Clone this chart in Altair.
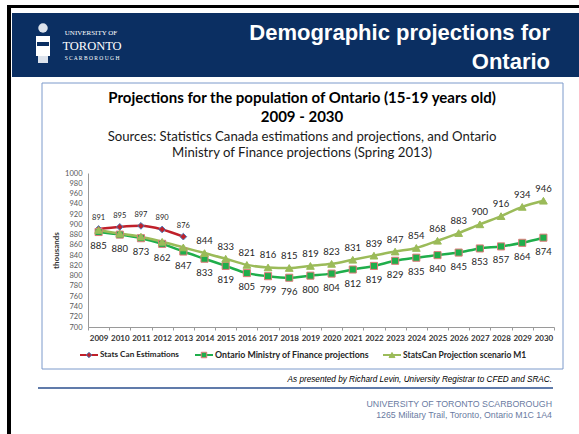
import altair as alt
import pandas as pd

# ---------------- data ----------------
years = ["2009", "2010", "2011", "2012", "2013", "2014", "2015", "2016", "2017", "2018", "2019",
         "2020", "2021", "2022", "2023", "2024", "2025", "2026", "2027", "2028", "2029", "2030"]
est_years = ["2009", "2010", "2011", "2012", "2013"]
stats_can_est = [891, 895, 897, 890, 876]
ontario_mof = [885, 880, 873, 862, 847, 833, 819, 805, 799, 796, 800, 804, 812, 819, 829, 835,
               840, 845, 853, 857, 864, 874]
statscan_m1 = [889, 882, 876, 866, 855, 844, 833, 821, 816, 815, 819, 823, 831, 839, 847, 854,
               868, 883, 900, 916, 934, 946]
m1_label_shown = [False, False, False, False, False, True, True, True, True, True, True,
                  True, True, True, True, True, True, True, True, True, True, True]
series_names = ["Stats Can Estimations", "Ontario Ministry of Finance projections",
                "StatsCan Projection scenario M1"]
y_ticks = [700, 720, 740, 760, 780, 800, 820, 840, 860, 880, 900, 920, 940, 960, 980, 1000]

title_lines = ["Projections for the population of Ontario (15-19 years old)", "2009 - 2030"]
subtitle_lines = ["Sources: Statistics Canada estimations and projections, and Ontario",
                  "Ministry of Finance projections (Spring 2013)"]
header_lines = ["Demographic projections for", "Ontario"]
credit = "As presented by Richard Levin, University Registrar to CFED and SRAC."
footer_lines = ["UNIVERSITY OF TORONTO SCARBOROUGH", "1265 Military Trail, Toronto, Ontario  M1C 1A4"]

# ---------------- tables ----------------
df_est = pd.DataFrame({"year": est_years, "value": stats_can_est, "series": series_names[0]})
df_mof = pd.DataFrame({"year": years, "value": ontario_mof, "series": series_names[1]})
df_m1 = pd.DataFrame({"year": years, "value": statscan_m1, "series": series_names[2],
                      "show": m1_label_shown})
dummy = pd.DataFrame({"k": [0]})

# ---------------- style ----------------
RED = "#C0202A"
GREEN = "#1FAE4B"
LGREEN = "#9BBB59"
NAVY = "#0B2F62"
FONT = "Lato"
W, H = 466, 154
OX, OY = 88, 173  # plot origin in page pixels


def px(X):
    return X - OX


def py(Y):
    return Y - OY


xscale = alt.Scale(type="band", domain=years, paddingInner=0, paddingOuter=0)
yscale = alt.Scale(domain=[700, 1000], nice=False, zero=False)

X_axis = alt.X("year:O", scale=xscale, bandPosition=0.5, title=None,
               axis=alt.Axis(labelAngle=0, labelFont=FONT, labelFontSize=8, labelFontWeight="bold",
                             labelColor="#333333", domainColor="#9A9A9A", tickColor="#9A9A9A",
                             tickSize=3, tickBand="extent", labelPadding=4, grid=False))
Y_axis = alt.Y("value:Q", scale=yscale, title="thousands",
               axis=alt.Axis(values=y_ticks, format="d", labelFont=FONT, labelFontSize=7.5,
                             labelColor="#595959", domainColor="#9A9A9A", ticks=False, grid=False,
                             labelPadding=6, titleFont=FONT, titleFontSize=8,
                             titleFontWeight="bold", titleColor="#333333", titlePadding=4))


def line(df, color):
    return alt.Chart(df).mark_line(color=color, strokeWidth=2.5, interpolate="monotone").encode(
        x=X_axis, y=Y_axis)


def pts(df, shape, fill, stroke, size):
    return alt.Chart(df).mark_point(shape=shape, filled=True, fill=fill, stroke=stroke,
                                    strokeWidth=1, size=size, opacity=1).encode(x=X_axis, y=Y_axis)


def labels(df, dy, size):
    return alt.Chart(df).mark_text(dy=dy, font=FONT, fontSize=size, color="#262626").encode(
        x=X_axis, y=Y_axis, text="value:Q")


def rect(x1, y1, x2, y2, fill=None, stroke=None, sw=1):
    kw = {}
    if fill is not None:
        kw["fill"] = fill
    else:
        kw["fillOpacity"] = 0
    if stroke is not None:
        kw["stroke"] = stroke
        kw["strokeWidth"] = sw
    return alt.Chart(dummy).mark_rect(**kw).encode(
        x=alt.value(px(x1)), x2=alt.value(px(x2)), y=alt.value(py(y1)), y2=alt.value(py(y2)))


def text(t, X, Y, size, color="#000000", weight="normal", align="center", font=FONT, style="normal"):
    return alt.Chart(dummy).mark_text(text=t, fontSize=size, color=color, fontWeight=weight,
                                      align=align, baseline="middle", font=font, fontStyle=style).encode(
        x=alt.value(px(X)), y=alt.value(py(Y)))


def hrule(x1, x2, Y, color, sw):
    return alt.Chart(dummy).mark_rule(color=color, strokeWidth=sw).encode(
        x=alt.value(px(x1)), x2=alt.value(px(x2)), y=alt.value(py(Y)))


def legend_item(x0, Y, color, shape, fill, stroke, size, label, fsize=8.5):
    return [
        hrule(x0, x0 + 18, Y, color, 2),
        alt.Chart(dummy).mark_point(shape=shape, filled=True, fill=fill, stroke=stroke, strokeWidth=1,
                                    size=size, opacity=1).encode(
            x=alt.value(px(x0 + 9)), y=alt.value(py(Y))),
        text(label, x0 + 20, Y, fsize, color="#262626", weight="bold", align="left"),
    ]


# ---------------- slide decoration ----------------
deco = [
    rect(7, 5, 579, 8, fill="#000000"),
    rect(7, 5, 11, 434, fill="#000000"),
    rect(12, 13, 579, 77, fill=NAVY),
    # crest (simplified)
    alt.Chart(dummy).mark_point(shape="circle", filled=True, fill="#DDE3EC", size=90, opacity=1).encode(
        x=alt.value(px(43)), y=alt.value(py(28))),
    rect(36, 36, 50, 56, fill="#FFFFFF"),
    rect(37, 42, 49, 46, fill=NAVY),
    rect(38, 56, 48, 63, fill="#DDE3EC"),
    text("UNIVERSITY OF", 91, 33, 7, color="#FFFFFF", font="Liberation Serif"),
    text("TORONTO", 92, 46, 12.5, color="#FFFFFF", font="Liberation Serif"),
    text("S C A R B O R O U G H", 92, 58, 5.5, color="#FFFFFF", font="Liberation Serif"),
    text(header_lines[0], 550, 33, 22, color="#FFFFFF", weight="bold", align="right",
         font="Liberation Sans"),
    text(header_lines[1], 550, 62, 22, color="#FFFFFF", weight="bold", align="right",
         font="Liberation Sans"),
    rect(42, 83, 563, 369, stroke="#7C9ACB", sw=1),
    text(title_lines[0], 302, 98, 15, color="#000000", weight="bold"),
    text(title_lines[1], 302, 117, 15, color="#000000", weight="bold"),
    text(subtitle_lines[0], 302, 137, 13.2, color="#1A1A1A"),
    text(subtitle_lines[1], 302, 153, 13.2, color="#1A1A1A"),
    hrule(38, 553, 388, "#2B4F8E", 1.5),
    text(credit, 552, 380, 8.2, color="#000000", align="right", font="Liberation Sans", style="italic"),
    text(footer_lines[0], 552, 404, 8.8, color="#6A7BA2", align="right", font="Liberation Sans"),
    text(footer_lines[1], 552, 415, 8.8, color="#6A7BA2", align="right", font="Liberation Sans"),
]

legend = (legend_item(80, 355, RED, "diamond", RED, "#4A7EBB", 30, series_names[0], 8.2)
          + legend_item(195, 355, GREEN, "square", GREEN, "#E07A7A", 30, series_names[1], 8.8)
          + legend_item(383, 355, LGREEN, "triangle-up", LGREEN, LGREEN, 35, series_names[2], 8.5))

data_layers = [
    line(df_est, RED),
    line(df_mof, GREEN),
    line(df_m1, LGREEN),
    pts(df_est, "diamond", RED, "#4A7EBB", 45),
    pts(df_mof, "square", GREEN, "#E07A7A", 50),
    pts(df_m1, "triangle-up", LGREEN, LGREEN, 60),
    labels(df_est, -11, 7.5),
    labels(df_mof, 14, 9.5),
    labels(df_m1, -12, 9.5).transform_filter("datum.show"),
]

chart = alt.layer(*(deco + data_layers + legend)).properties(
    width=W, height=H,
    autosize=alt.AutoSizeParams(type="none"),
    padding={"left": OX, "top": OY, "right": 579 - OX - W, "bottom": 434 - OY - H},
    background="#FFFFFF",
).configure_view(stroke=None)

chart.save("out.html", embed_options={"renderer": "svg", "actions": False})
